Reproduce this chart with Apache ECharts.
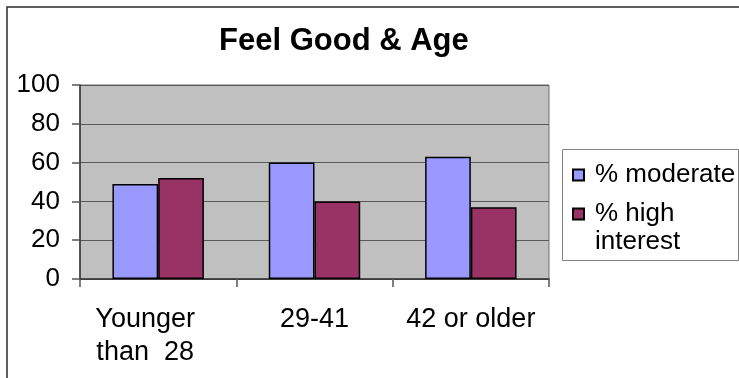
<!DOCTYPE html>
<html>
<head>
<meta charset="utf-8">
<script src="https://cdn.jsdelivr.net/npm/echarts@6/dist/echarts.min.js"></script>
<style>
  html, body { margin: 0; padding: 0; background: #fff; }
  #chart { width: 739px; height: 378px; }
</style>
</head>
<body>
<div id="chart"></div>
<script>
// Age groups on the category axis
const categories = ['Younger\nthan  28', '29-41', '42 or older'];
// Share of respondents per group (%)
const moderate = [49, 60, 63];
const highInterest = [52, 40, 37];
// Value axis ticks
const yTicks = [0, 20, 40, 60, 80, 100];

const FONT = '"Liberation Sans", Arial, sans-serif';

const chart = echarts.init(document.getElementById('chart'), null, { renderer: 'canvas' });

chart.setOption({
  animation: false,
  backgroundColor: '#ffffff',
  textStyle: { fontFamily: FONT, color: '#000' },
  title: {
    text: 'Feel Good & Age',
    left: 219,
    top: 26,
    padding: 0,
    textStyle: { fontFamily: FONT, fontSize: 31, fontWeight: 'bold', color: '#000' }
  },
  graphic: [
    // outer chart frame
    {
      type: 'rect', silent: true, z: 0,
      shape: { x: 7, y: 7, width: 800, height: 420 },
      style: { fill: 'none', stroke: '#2a2a2a', lineWidth: 1.5 }
    },
    // legend frame
    {
      type: 'rect', silent: true, z: 1,
      shape: { x: 562.5, y: 149.5, width: 176, height: 111 },
      style: { fill: '#fff', stroke: '#808080', lineWidth: 1 }
    }
  ],
  legend: [
    {
      data: ['% moderate'],
      orient: 'vertical',
      left: 572, top: 161, padding: 0,
      itemWidth: 11, itemHeight: 11,
      icon: 'rect',
      textStyle: { fontFamily: FONT, fontSize: 26, color: '#000', lineHeight: 28, padding: [0, 0, 0, 6] },
      z: 5
    },
    {
      data: ['% high interest'],
      orient: 'vertical',
      left: 572, top: 172, padding: 0,
      itemWidth: 11, itemHeight: 11,
      icon: 'rect',
      // blank first line keeps the swatch level with "% high"
      formatter: function () { return ' \n% high\ninterest'; },
      textStyle: { fontFamily: FONT, fontSize: 26, color: '#000', lineHeight: 28, padding: [0, 0, 0, 6] },
      z: 5
    }
  ],
  grid: {
    left: 80, top: 85, width: 469, height: 194,
    show: true,
    backgroundColor: '#c0c0c0',
    borderColor: '#707070',
    borderWidth: 1,
    containLabel: false
  },
  xAxis: {
    type: 'category',
    data: categories.map(function (c, i) {
      return i === 0 ? { value: c, textStyle: { padding: [0, 26, 0, 0] } } : c;
    }),
    axisLine: { show: true, lineStyle: { color: '#333', width: 1.5 } },
    axisTick: { show: true, length: 8, lineStyle: { color: '#555', width: 1.5 } },
    axisLabel: {
      interval: 0,
      margin: 24,
      fontFamily: FONT, fontSize: 27, color: '#000', lineHeight: 33
    },
    splitLine: { show: false }
  },
  yAxis: {
    type: 'value',
    min: yTicks[0],
    max: yTicks[yTicks.length - 1],
    interval: yTicks[1] - yTicks[0],
    axisLine: { show: true, lineStyle: { color: '#333', width: 1.5 } },
    axisTick: { show: true, inside: false, length: 8, lineStyle: { color: '#555', width: 1.5 } },
    axisLabel: { margin: 20, fontFamily: FONT, fontSize: 26, color: '#000' },
    splitLine: { show: true, lineStyle: { color: '#5a5a5a', width: 1.2 } }
  },
  series: [
    {
      name: '% moderate',
      type: 'bar',
      data: moderate,
      barGap: '0%',
      barCategoryGap: '41.5%',
      itemStyle: { color: '#9999ff', borderColor: '#000', borderWidth: 1.5 }
    },
    {
      name: '% high interest',
      type: 'bar',
      data: highInterest,
      barGap: '0%',
      barCategoryGap: '41.5%',
      itemStyle: { color: '#993366', borderColor: '#000', borderWidth: 1.5 }
    }
  ]
});
</script>
</body>
</html>
